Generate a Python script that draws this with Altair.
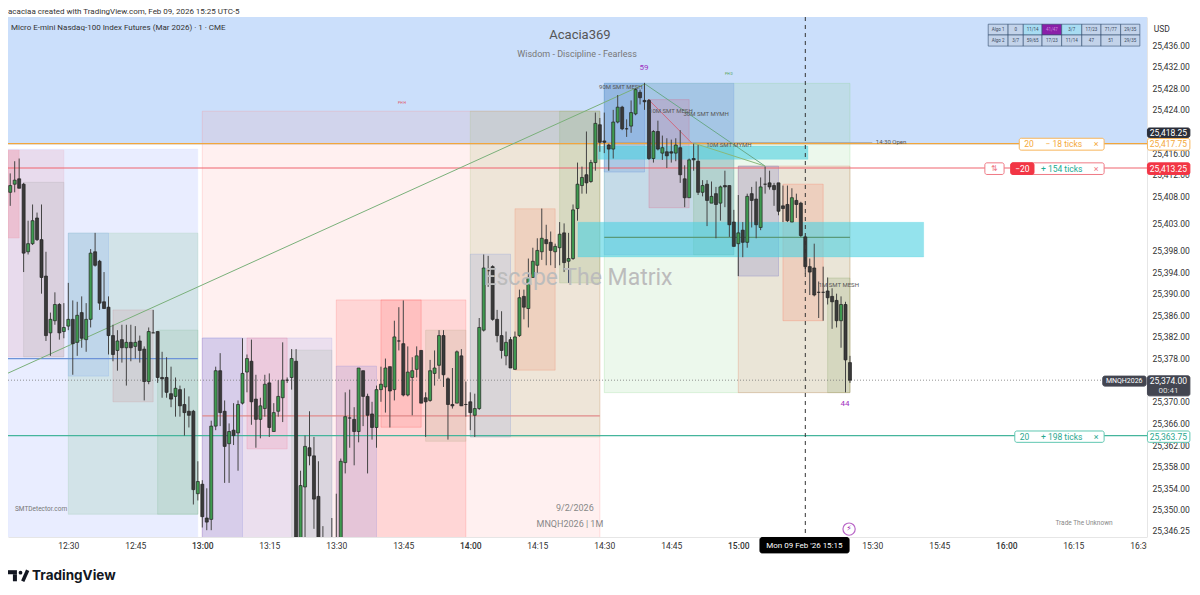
import json
import altair as alt
import pandas as pd

# ---- price offsets: values are points above 25,000; time: minutes after 13:00
BASE = 25000
T_START = -43
OPEN = [408.75,410.25,411.25,410.25,397.75,399.25,404,400,393.25,382.75,
 385,388,383,384,385.25,381,386.5,381.5,385.25,397.75,
 396,388.5,387.5,382.25,379.5,381.5,380,381,380.25,381.25,
 379.75,373.75,382.75,383,374.5,374.5,371.5,371,372.25,369.5,
 368.25,368.25,353,354.75,348.5,348.25,365.5,375.75,368.25,362.25,
 364.75,364.25,369.75,375.5,377.5,370.5,366.75,368.75,373.5,364.5,
 368.25,370.75,374,374.5,377.5,344,354.25,361.5,360,352.5,
 343,341,343,340,344,358.75,367,366.75,364.5,375.75,
 371,367.75,365.25,372.25,372.75,376.5,372.25,381.25,380.75,371.25,
 374.5,376,379.5,370.75,370.25,375.25,376.75,382.25,374.25,369.5,
 369.75,378.5,369.5,370,367.5,368.75,383.25,394.25,395,385.25,
 382.25,378.5,381.5,376,382.25,389.5,387.25,393,395.25,397.75,
 400,399.5,397.75,398.5,401.25,396,396.5,405.75,410,412,
 410.75,414.25,421.25,418.25,417.5,416.75,421.75,424.5,420.5,421,
 423.25,427.25,425.75,425.75,415,420,416,416.25,416.25,416,
 417,411.25,407.75,415,414.5,408.75,410.25,406.75,408.5,406.75,
 410,410,403.25,399.25,401.75,399.5,408.5,407.5,402.25,410.25,
 410.5,410,410.5,406.25,406.5,403.25,407.25,406.75,400.5,395,
 394.75,390.25,390.25,390.5,389.5,388.75,385,388,377.25]
HIGH = [412.25,414.5,415,410.5,403.5,406.5,405,406.5,397.75,386.5,
 390.25,388.25,388.25,392,388.75,388.5,389.5,388.25,398.25,401.25,
 396.25,394,389.5,384.25,383.25,384.25,384.25,384.25,384,382.25,
 380.25,383.75,387,383,379.25,378.25,376.5,374.5,373,372.5,
 371,368.5,359,355.5,354,366.5,376.5,379,370.25,366,
 369.75,370.25,381.75,378.75,381.5,375,370.75,375,375.25,369.75,
 374,381,374.5,379.75,379.75,357.25,363.75,368.25,363.5,359,
 347,343,348.5,353,359.5,371.75,372.25,369,376.25,375.75,
 371.5,370,373,376.5,378,376.5,385,387.5,388.75,380.25,
 378.25,380.25,379.5,371.75,377.75,379.5,383.25,383.25,374.5,376.25,
 379.5,379.75,373.75,371.75,371.5,385.5,397.25,397,395.25,387,
 386.75,383,382,383,390.75,390.75,396.5,398.5,400.25,405.75,
 402.75,401.5,399.25,403.25,403,401.25,406.5,414.25,413.5,420,
 414.75,423.5,422.5,423.5,417.75,424,426.75,424.75,422.25,425.75,
 428,427.75,429,426,420.25,422,419.25,418.75,418.5,418.75,
 420.25,413.75,415,417.75,417.5,411,411,410.75,409.75,410,
 412.75,410,405.5,408.25,403.25,408.5,409.75,410.75,411.5,413.5,
 412.75,410.5,410.5,410,410,409.5,408.5,407,400.75,396.5,
 399.25,392.25,395,393,391,390,389.5,388.5,378.5]
LOW = [406.25,408.75,409.5,394,397.25,399,399.75,390,381.25,378.5,
 384.25,381.5,381.75,383.25,375,378.5,380,379.25,383.75,395,
 387,387.25,378.75,377.5,375.75,377.25,373,377.5,378,377.25,
 370.25,373.25,382.75,373.5,370.75,370.75,369,367.25,367.25,363.75,
 365.25,351,351.75,346.75,346.25,346.25,364.75,365.5,355,355,
 362,357.25,369.5,371.75,365.75,361.5,363.25,367.25,363.5,364.5,
 367.25,366.25,373.5,372.25,344,343,344.75,358.25,346.5,342,
 340,339,341,339,343,356.75,361.5,358.25,362.5,365.5,
 356.75,363,361.5,370,368,365.25,370.25,379.5,371,371,
 367.5,374.5,369.75,363.5,370,373,374.25,372.75,363,368.75,
 369.75,369.25,367.25,364.75,363.5,368.5,383,391.25,385,381,
 378,376.75,376.25,376,382,385.25,383.75,393,393.75,396.25,
 395.25,395.25,394.75,395.25,394,392,396.25,403.5,408.5,408.5,
 410.5,412.75,416.25,416,412.75,415,421.5,420.25,419,419.75,
 423,425,424,414.75,414.25,416.5,414.75,413.25,414.25,414.5,
 410.5,406,407.75,412.75,408.25,408,402.5,406.75,400.25,403.5,
 406,400.5,398.75,393.25,396.75,398.5,402.25,400.25,401.75,408.5,
 409.25,406.25,404.5,403.25,403.25,403.25,404,400.5,393.75,389.75,
 389.5,385.5,385,388,383.5,383.75,380,371.75,373.5]
CLOSE = [410,411,409.5,397.5,399.25,403.5,400,393,382.25,385.25,
 388,382.75,383.75,385.25,380.75,386,381.75,385.25,397.5,395.25,
 388.25,387.25,382.25,378.75,381.25,380,381,380,381,379.5,
 373.75,383,382.75,374.5,374.25,371.75,370.5,372.5,369.25,368,
 367.5,353.75,355.25,348.75,347.75,365.5,375.75,368,361.75,364.5,
 363.75,369.5,375.25,378,370,366.75,369.25,373.25,365.25,368,
 371,374,374,378,345,354.5,361.75,360,352,343,
 341,340,342,344,359,367.25,367,364.5,376.25,371,
 367.5,365.25,372.25,373.25,376.25,372,382,381.25,371.25,375.5,
 375.75,378.5,369.75,370,375.75,376.25,382.25,375,369.5,369.25,
 379.25,369.25,369.5,368,368.75,383.75,394.75,394.25,385.25,382.25,
 379.5,381,376.25,382,389.25,387.5,393,396,398,400.25,
 399.25,398,398.75,401,395.75,396.5,405.5,410.25,411.5,410.5,
 414.25,421.5,418,418,416.75,421.75,424.5,420.5,420.5,423.5,
 427.75,426.25,425.5,415,420,416.75,417,415.5,416,417.5,
 412,407.75,414.75,414.75,408.75,410,407.25,408,406.5,409.75,
 409.75,402.75,398.75,401.25,399.5,408,407.25,402.75,409.75,410.25,
 409.75,409.25,405.25,405.75,403.5,407.75,406.5,400.75,395,394,
 389.75,390.25,390.25,389.25,388.5,385,388,377.75,374]

# ---- axes
X_MIN, X_MAX = -43.5, 211.5
P_MIN, P_MAX = 344.99, 441.18
TIME_TICKS = [-30,-15,0,15,30,45,60,75,90,105,120,150,165,180,195,210]
TIME_LABELS = ["12:30","12:45","13:00","13:15","13:30","13:45","14:00","14:15","14:30",
               "14:45","15:00","15:30","15:45","16:00","16:15","16:30"]
PRICE_TICKS = [25346.25,25350,25354,25358,25362,25366,25370,25378,25382,25386,25390,25394,
               25398,25403,25408,25412,25416,25424,25428,25432,25436]

# ---- zones: minutes from/to, price top/bottom
Z_T0 = [-43.5,-43.5,-43.5,-40,-30,-30,-20,-10, 0, 0, 0,10,20,30,30,40,50,60,60,70,80,90,90,90,100,110,120,120,130,140,84.1,88.6]
Z_T1 = [-1,-31,-41,-31,-1,-21,-11,-1, 89,29, 9,19,29,59,39,49,59,89,69,79,89,145,119,99,109,119,145,129,139,145,161.5,135.6]
Z_TOP = [416.75,416.55,416.55,410.6,401.2,401.2,387,383.25,423.75,381.8,381.8,381.8,379.55,388.85,376.6,388.85,383.25,423.75,397.3,405.7,423.75,428.9,428.9,428.9,425.9,417.85,413.6,413.6,410.25,392.9,403.2,417.3]
Z_BOT = [344.9,378.3,400.3,378.3,349.2,374.75,370,349.2,344.9,344.9,344.9,361.3,344.9,344.9,344.9,365.3,362.7,363.5,363.5,375.85,392,371.7,397.2,412.5,405.9,397.2,371.7,393.25,385,371.7,396.8,414.85]
Z_FILL = ["#dfe6ff","#e8b4c4","#f08fa0","#aaaaaa","#8fc7a5","#7aa8f0","#c89098","#80b896","#ff8888","#a4a4e8","#8888dd","#ee7799","#9fb0aa","#ff6666","#8888dd","#ff4444","#b0a888","#a8b878","#7890d8","#f08060","#88b070","#80d080","#6090e0","#5080d8","#e06080","#70b070","#e06040","#6060c0","#ff6040","#80a060","#4dd0e1","#4dd0e1"]
Z_ALPHA = [0.7,0.3,0.35,0.22,0.25,0.22,0.22,0.2,0.13,0.22,0.2,0.2,0.22,0.18,0.22,0.15,0.22,0.2,0.18,0.2,0.22,0.15,0.28,0.2,0.2,0.2,0.12,0.2,0.16,0.2,0.6,0.6]

# ---- straight lines
L_T0 = [-43.5,99.1,99.8,110]
L_P0 = [375.3,428.8,426,417.85]
L_T1 = [99.1,126,109.6,126]
L_P1 = [428.8,413.6,417.85,413.6]
L_COLOR = ["#7ab07a","#6aa88a","#d06a80","#8ab87a"]
H_T0 = [-43.5,0,90,90,-43.5,-43.5,-43.5]
H_T1 = [-1,89,145,150,211.5,211.5,211.5]
H_P = [378,367.4,400.4,417.9,417.75,413.25,363.75]
H_COLOR = ["#6d93d8","#e08a8a","#5a9a7a","#a0a0a0","#f2a63c","#f0646e","#45b59c"]

# ---- price tags and order panels
B_T0 = [211.6,211.6,211.6,211.6,201.6,211.6,182.9,175.2,181,181,181.9,124.85]
B_T1 = [221.1,221.1,221.1,221.1,211.3,221.1,201.9,179.5,201.9,186.2,201.9,144.8]
B_TOP = [420.65,418.7,414.2,374.8,374.75,364.6,418.75,414.2,414.2,414.2,364.6,344.9]
B_BOT = [418.9,416.55,412.05,371.1,372.9,362.5,416.55,412.05,412.05,412.05,362.5,342.05]
B_FILL = ["#2a2e39","#ffffff","#f23645","#434651","#434651","#ffffff","#ffffff","#ffffff","#ffffff","#f23645","#ffffff","#000000"]
B_STROKE = ["#2a2e39","#f7b55a","#f23645","#434651","#434651","#5fc7b1","#f7b55a","#ef7a85","#ef7a85","#f23645","#5fc7b1","#000000"]

# ---- info table
CELL_EDGE = [175.95,180.4,183.8,188,192.4,196.9,201.2,205.6,209.9]
ROW_EDGE = [439.85,437.85,435.8]
ROW1 = ["Algo 1","0","11/14","41/47","3/7","17/23","71/77","29/35"]
ROW2 = ["Algo 2","3/7","59/65","17/23","11/14","47","51","29/35"]
ROW1_FILL = ["#c3d3ea","#c3d3ea","#a8dcf2","#8a1fa8","#a8dcf2","#c3d3ea","#c3d3ea","#c3d3ea"]

# ---- captions (text, t, price, size, colour)
C_TEXT = ["Acacia369","Wisdom - Discipline - Fearless","59","44","PH H","PH D","90M SMT MESH","10M SMT MESH","30M SMT MYMH","10M SMT MYMH","1M SMT MESH","14:30 Open","Escape The Matrix","SMTDetector.com","9/2/2026","MNQH2026 | 1M","Trade The Unknown",
          "25,418.25","25,417.75","25,413.25","25,374.00","00:41","MNQH2026","25,363.75","USD",
          "20","\u2212 18 ticks","\u00d7","\u21c5","\u221220","+ 154 ticks","\u00d7","20","+ 198 ticks","\u00d7","Mon 09 Feb '26  15:15"]
C_T = [84.55,83.9,98.9,143.9,44.7,117.9,93.7,104.9,112.8,117.9,142.5,154.2,84.1,-36.1,83.4,82.3,197.4,
       216.3,216.3,216.3,216.3,216.3,206.4,216.3,214.8,
       185.1,192.9,200.1,177.35,183.6,192.4,200.1,184.1,192.4,200.1,134.8]
C_P = [437.85,434.3,431.75,369.55,425.25,430.6,428.2,423.75,423.2,417.5,391.6,418.05,392.9,350.15,350.3,347.35,347.55,
       419.8,417.65,413.1,373.8,372.05,373.8,363.5,438.9,
       417.65,417.65,417.65,413.1,413.1,413.1,413.1,363.5,363.5,363.5,343.3]
C_SIZE = [13,9,8,8,3.5,3.5,6,6,6,6,6,6,23,6.5,9,9,6.5,
          8.5,8.5,8.5,8.5,8,7,8.5,8.5,
          8.5,8.5,9,8,8.5,8.5,9,8.5,8.5,9,8]
C_COLOR = ["#555555","#777777","#a030c0","#a030c0","#e05060","#50a050","#555555","#555555","#555555","#555555","#555555","#555555","#bcbcbc","#777777","#888888","#888888","#888888",
           "#ffffff","#f4a93b","#ffffff","#ffffff","#dddddd","#ffffff","#2aa78f","#333333",
           "#f4a93b","#f4a93b","#f4a93b","#ef7a85","#ffffff","#22ab94","#ef7a85","#2aa78f","#2aa78f","#2aa78f","#ffffff"]
HEAD_TEXT = ["acaciaa created with TradingView.com, Feb 09, 2026 15:25 UTC-5",
             "Micro E-mini Nasdaq-100 Index Futures (Mar 2026) \u00b7 1 \u00b7 CME"]
HEAD_T = [-43.5,-42.83]
HEAD_P = [442.05,439.2]
BOLT_TEXT = "\u26a1\ufe0e"
LOGO_TEXT = "TradingView"

FONT = "Roboto"
# ---- scales
XS = alt.Scale(domain=[X_MIN, X_MAX], nice=False, zero=False, padding=0)
YS = alt.Scale(domain=[BASE + P_MIN, BASE + P_MAX], nice=False, zero=False, padding=0)
tick_map = json.dumps({str(k): v for k, v in zip(TIME_TICKS, TIME_LABELS)})
X_AXIS = alt.Axis(values=TIME_TICKS, labelExpr=f"{tick_map}[datum.value]", title=None, grid=False,
                  ticks=False, domainColor="#e6e6e6", labelFont=FONT, labelFontSize=8.5,
                  labelColor="#333333", labelPadding=4, labelOverlap=False, labelFlush=False,
                  labelBound=False, labelFontWeight=alt.expr("datum.value % 60 == 0 ? 500 : 400"))
Y_AXIS = alt.Axis(values=PRICE_TICKS, format=",.2f", orient="right", title=None, grid=False,
                  ticks=False, domainColor="#e6e6e6", labelFont=FONT, labelFontSize=8.5,
                  labelColor="#333333", labelPadding=5, labelOverlap=False, labelFlush=False,
                  labelBound=False)


def X(f="t0", **kw):
    return alt.X(f"{f}:Q", scale=XS, axis=X_AXIS, **kw)


def Y(f="top", **kw):
    return alt.Y(f"{f}:Q", scale=YS, axis=Y_AXIS, **kw)


def P(values):
    return [BASE + v for v in values]


layers = []

# blue band + axes
band = pd.DataFrame({"t0": [X_MIN], "t1": [X_MAX], "top": P([P_MAX]), "bot": P([417.6])})
layers.append(alt.Chart(band).mark_rect(color="#cbdffb").encode(
    x=X(), x2="t1:Q", y=Y(), y2="bot:Q"))

# zones
zones = pd.DataFrame({"t0": Z_T0, "t1": Z_T1, "top": P(Z_TOP), "bot": P(Z_BOT), "fill": Z_FILL, "alpha": Z_ALPHA})
layers.append(alt.Chart(zones).mark_rect(strokeWidth=0.7, strokeOpacity=0.35, clip=True).encode(
    x=X(), x2="t1:Q", y=Y(), y2="bot:Q",
    fill=alt.Fill("fill:N", scale=None), stroke=alt.Stroke("fill:N", scale=None),
    fillOpacity=alt.FillOpacity("alpha:Q", scale=None)))

# horizontal lines
hl = pd.DataFrame({"t0": H_T0, "t1": H_T1, "top": P(H_P), "c": H_COLOR})
layers.append(alt.Chart(hl).mark_rule(strokeWidth=1.2).encode(
    x=X(), x2="t1:Q", y=Y(), color=alt.Color("c:N", scale=None)))

# current price dotted line
cur = pd.DataFrame({"t0": [X_MIN], "t1": [201.6], "top": P([374])})
layers.append(alt.Chart(cur).mark_rule(strokeWidth=0.8, strokeDash=[1, 2], color="#777777").encode(
    x=X(), x2="t1:Q", y=Y()))

# diagonal lines
dl = pd.DataFrame({"t0": L_T0, "t1": L_T1, "top": P(L_P0), "bot": P(L_P1), "c": L_COLOR})
layers.append(alt.Chart(dl).mark_rule(strokeWidth=1).encode(
    x=X(), x2="t1:Q", y=Y(), y2="bot:Q", color=alt.Color("c:N", scale=None)))

# candles
n = len(OPEN)
assert n == len(HIGH) == len(LOW) == len(CLOSE) == 189
candles = pd.DataFrame({"t0": [T_START + i for i in range(n)],
                        "hi": P(HIGH), "lo": P(LOW),
                        "top": P([max(o, c) for o, c in zip(OPEN, CLOSE)]),
                        "bot": P([min(o, c) for o, c in zip(OPEN, CLOSE)]),
                        "c": ["#3f9a50" if c > o else "#3a3a3a" for o, c in zip(OPEN, CLOSE)]})
layers.append(alt.Chart(candles).mark_rule(strokeWidth=1, color="#444444", clip=True).encode(
    x=X(), y=Y("hi"), y2="lo:Q"))
layers.append(alt.Chart(candles).mark_bar(size=3, orient="vertical", stroke="#222222", strokeWidth=0.7, clip=True).encode(
    x=X(), y=Y(), y2="bot:Q", fill=alt.Fill("c:N", scale=None)))

# crosshair
cross = pd.DataFrame({"t0": [135], "top": P([P_MAX]), "bot": P([P_MIN])})
layers.append(alt.Chart(cross).mark_rule(strokeWidth=1, strokeDash=[4, 4], color="#333333").encode(
    x=X(), y=Y(), y2="bot:Q"))

# table cells
rows = []
for r, (texts, fills) in enumerate([(ROW1, ROW1_FILL), (ROW2, ["#c3d3ea"] * 8)]):
    for i, (s, f) in enumerate(zip(texts, fills)):
        rows.append({"t0": CELL_EDGE[i], "t1": CELL_EDGE[i + 1], "tm": (CELL_EDGE[i] + CELL_EDGE[i + 1]) / 2,
                     "top": BASE + ROW_EDGE[r], "bot": BASE + ROW_EDGE[r + 1],
                     "ym": BASE + (ROW_EDGE[r] + ROW_EDGE[r + 1]) / 2, "s": s, "f": f,
                     "tc": "#cc88dd" if f == "#8a1fa8" else "#3a4a60"})
cells = pd.DataFrame(rows)
layers.append(alt.Chart(cells).mark_rect(stroke="#334d6e", strokeWidth=0.6).encode(
    x=X(), x2="t1:Q", y=Y(), y2="bot:Q", fill=alt.Fill("f:N", scale=None)))
layers.append(alt.Chart(cells).mark_text(font=FONT, fontSize=4.5, baseline="middle").encode(
    x=X("tm"), y=Y("ym"), text="s:N", color=alt.Color("tc:N", scale=None)))

# cover for the cut 16:30 label
cover = pd.DataFrame({"t0": [X_MAX], "t1": [221], "top": P([344.85]), "bot": P([342])})
layers.append(alt.Chart(cover).mark_rect(color="#ffffff").encode(x=X(), x2="t1:Q", y=Y(), y2="bot:Q"))

# price tags, panels and the time badge
badges = pd.DataFrame({"t0": B_T0, "t1": B_T1, "top": P(B_TOP), "bot": P(B_BOT), "f": B_FILL, "st": B_STROKE})
layers.append(alt.Chart(badges).mark_rect(cornerRadius=2, strokeWidth=1).encode(
    x=X(), x2="t1:Q", y=Y(), y2="bot:Q", fill=alt.Fill("f:N", scale=None), stroke=alt.Stroke("st:N", scale=None)))

# lightning circle
bolt = pd.DataFrame({"t0": [144.8], "top": P([346.45]), "s": [BOLT_TEXT]})
layers.append(alt.Chart(bolt).mark_point(shape="circle", size=150, filled=False, color="#9c27b0", strokeWidth=1.2).encode(
    x=X(), y=Y()))
layers.append(alt.Chart(bolt).mark_text(font="DejaVu Sans", fontSize=8, baseline="middle", color="#9c27b0").encode(
    x=X(), y=Y(), text="s:N"))

# captions
caps = pd.DataFrame({"t0": C_T, "top": P(C_P), "s": C_TEXT, "sz": C_SIZE, "c": C_COLOR})
layers.append(alt.Chart(caps).mark_text(font=FONT, baseline="middle", align="center").encode(
    x=X(), y=Y(), text="s:N", size=alt.Size("sz:Q", scale=None), color=alt.Color("c:N", scale=None)))

head = pd.DataFrame({"t0": HEAD_T, "top": P(HEAD_P), "s": HEAD_TEXT})
layers.append(alt.Chart(head).mark_text(font=FONT, fontSize=8, baseline="middle", align="left", color="#333333").encode(
    x=X(), y=Y(), text="s:N"))

# TradingView logo
logo_rects = pd.DataFrame({"t0": [-43.5, -42.4], "t1": [-41.5, -41.5], "top": P([338.85, 338.1]), "bot": P([338.1, 336.8])})
layers.append(alt.Chart(logo_rects).mark_rect(color="#131722").encode(x=X(), x2="t1:Q", y=Y(), y2="bot:Q"))
logo_dot = pd.DataFrame({"t0": [-40.7], "top": P([338.4])})
layers.append(alt.Chart(logo_dot).mark_point(shape="circle", size=14, filled=True, opacity=1, color="#131722").encode(x=X(), y=Y()))
logo_bar = pd.DataFrame({"t0": [-39.1], "t1": [-40.2], "top": P([338.85]), "bot": P([336.8])})
layers.append(alt.Chart(logo_bar).mark_rule(strokeWidth=3.5, color="#131722").encode(x=X(), x2="t1:Q", y=Y(), y2="bot:Q"))
logo_txt = pd.DataFrame({"t0": [-38.1], "top": P([337.8]), "s": [LOGO_TEXT]})
layers.append(alt.Chart(logo_txt).mark_text(font="Inter", fontSize=13.5, fontWeight=700, baseline="middle", align="left", color="#131722").encode(
    x=X(), y=Y(), text="s:N"))

chart = alt.layer(*layers).properties(
    width=1139, height=520,
    padding={"left": 0, "top": 9, "right": 45, "bottom": 50},
    autosize=alt.AutoSizeParams(type="none"),
    background="#ffffff",
).configure_view(stroke=None)

chart.save("out.html", embed_options={"renderer": "svg", "actions": False})
